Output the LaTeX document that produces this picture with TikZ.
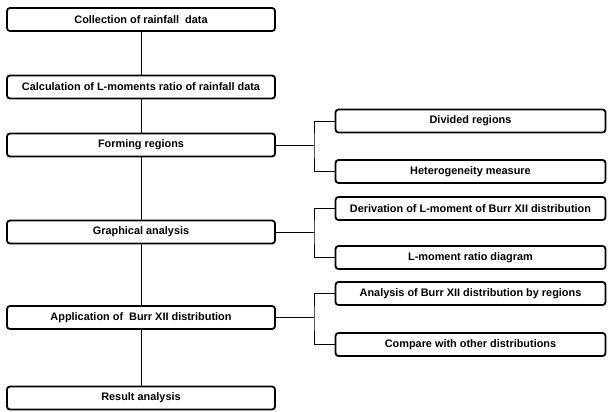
\documentclass[tikz,border=0pt]{standalone}
\usepackage{fontspec}
\setmainfont{Liberation Sans}
\usepackage{tikz}

\tikzset{
  stepbox/.style={draw, line width=1.8pt, rounded corners=3pt, minimum width=268pt,
    minimum height=23pt, inner sep=0pt, font=\fontsize{10.9}{12}\selectfont\bfseries},
  subbox/.style={stepbox, minimum width=270pt},
  link/.style={line width=0.9pt}
}

\begin{document}
\begin{tikzpicture}[x=1pt,y=-1pt]
\useasboundingbox (0,0) rectangle (608,412);
% main chain
\node[stepbox] (coll) at (141,19.5) {Collection of rainfall\ \ data};
\node[stepbox] (calc) at (141,87) {Calculation of L-moments ratio of rainfall data};
\node[stepbox] (form) at (141,145) {Forming regions};
\node[stepbox] (graph) at (141,232) {Graphical analysis};
\node[stepbox] (appl) at (141,317.5) {Application of\ \ Burr XII distribution};
\node[stepbox] (res) at (141,398) {Result analysis};
%
\node[subbox] (div) at (470.5,121) {Divided regions};
\node[subbox] (het) at (470.5,171.5) {Heterogeneity measure};
\node[subbox] (der) at (470.5,208.5) {Derivation of L-moment of Burr XII distribution};
\node[subbox] (lrd) at (470.5,257.5) {L-moment ratio diagram};
\node[subbox] (ana) at (470.5,293.5) {Analysis of Burr XII distribution by regions};
\node[subbox] (cmp) at (470.5,344.5) {Compare with other distributions};
%
\draw[link] (coll.south) -- (calc.north);
\draw[link] (calc.south) -- (form.north);
\draw[link] (form.south) -- (graph.north);
\draw[link] (graph.south) -- (appl.north);
\draw[link] (appl.south) -- (res.north);
%
\coordinate (bform) at (314,145);
\coordinate (bgraph) at (314,232);
\coordinate (bappl) at (314,317.5);
\draw[link] (form.east) -- (bform);
\draw[link] (div.west) -| (bform) |- (het.west);
\draw[link] (graph.east) -- (bgraph);
\draw[link] (der.west) -| (bgraph) |- (lrd.west);
\draw[link] (appl.east) -- (bappl);
\draw[link] (ana.west) -| (bappl) |- (cmp.west);
\end{tikzpicture}
\end{document}
